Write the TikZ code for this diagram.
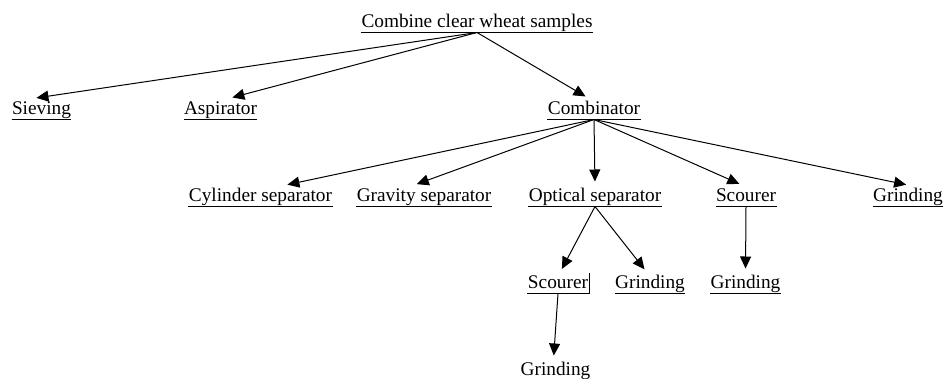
\documentclass[tikz,border=0pt]{standalone}
\usepackage{fontspec}
\setmainfont{Liberation Serif}
\usetikzlibrary{arrows.meta}

\begin{document}
\begin{tikzpicture}[x=1pt,y=-1pt]
    \useasboundingbox (0,0) rectangle (944,378);
    \begin{scope}[->,>={Triangle[length=12pt,width=11pt]},line width=1pt,shorten >=4pt,
        task node/.style={anchor=base,inner sep=0pt,text height=15pt,text depth=5pt,font=\fontsize{19.3}{23}\selectfont}]
    \node[task node] (top) at (477,27) {Combine clear wheat samples};
    \node[task node] (siev) at (41.5,114) {Sieving};
    \node[task node] (asp) at (220.5,114) {Aspirator};
    \node[task node] (comb) at (594,114) {Combinator};
    \node[task node] (cyl) at (260.5,201) {Cylinder separator};
    \node[task node] (grav) at (424,201) {Gravity separator};
    \node[task node] (opt) at (595,201) {Optical separator};
    \node[task node] (scour1) at (746,201) {Scourer};
    \node[task node] (grind1) at (908,201) {Grinding};
    \node[task node] (scour2) at (558,288) {Scourer};
    \node[task node] (grind2) at (650,288) {Grinding};
    \node[task node] (grind3) at (745.5,288) {Grinding};
    \node[task node] (grind4) at (555.5,375) {Grinding};
    \path (top.south) edge ([xshift=-9pt]siev.north)
        edge ([xshift=8pt]asp.north)
        edge ([xshift=-5pt]comb.north)
    (comb.south) edge ([xshift=23pt]cyl.north)
        edge ([xshift=-11pt]grav.north)
        edge (opt.north)
        edge ([xshift=-3pt]scour1.north)
        edge ([xshift=2pt]grind1.north)
    (opt.south) edge ([xshift=2pt]scour2.north)
        edge ([xshift=-3pt]grind2.north)
    (scour1.south) edge (grind3.north)
    (scour2.south) edge ([xshift=-2pt]grind4.north);
    \end{scope}
    % underlines
    \foreach \n in {top,siev,asp,comb,cyl,grav,opt,scour1,grind1,scour2,grind2,grind3}
        \draw[line width=0.8pt] (\n.south west) -- (\n.south east);
    \draw[line width=0.8pt] ([xshift=1pt]scour2.south east) -- ++(0,-21);
\end{tikzpicture}
\end{document}
